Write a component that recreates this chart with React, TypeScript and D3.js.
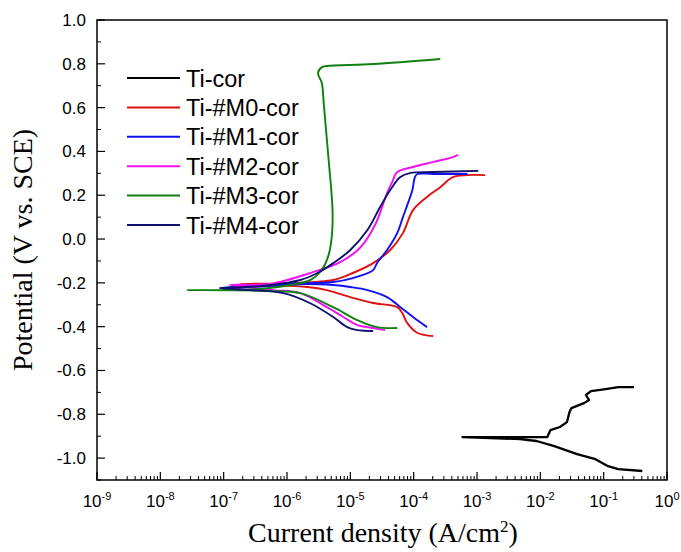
import React from "react";
import * as d3 from "d3";

// ---- data (log10 current density, potential V vs SCE) ----
const seriesNames = ["Ti-cor", "Ti-#M0-cor", "Ti-#M1-cor", "Ti-#M2-cor", "Ti-#M3-cor", "Ti-#M4-cor"];
const seriesColors = ["#000000", "#e01010", "#1010f0", "#f010f0", "#108010", "#101070"];

const tiCorLogI = [-0.39, -0.77, -0.93, -1.13, -1.42, -1.78, -2.06, -2.32, -2.79, -3.23, -2.63, -2.11, -1.89, -1.84, -1.69, -1.58, -1.54, -1.51, -1.31, -1.23, -1.28, -1.2, -0.97, -0.77, -0.52];
const tiCorE = [-1.059, -1.05, -1.037, -1.005, -0.982, -0.945, -0.922, -0.913, -0.909, -0.904, -0.904, -0.904, -0.904, -0.872, -0.858, -0.836, -0.79, -0.772, -0.749, -0.735, -0.712, -0.694, -0.685, -0.676, -0.676];

const m0LogI = [-3.69, -3.94, -4.1, -4.18, -4.26, -4.64, -5.0, -5.37, -5.68, -6.27, -6.74, -5.95, -5.27, -4.96, -4.64, -4.37, -4.17, -4.01, -3.79, -3.58, -3.38, -3.15, -2.87];
const m0E = [-0.443, -0.429, -0.384, -0.338, -0.311, -0.292, -0.265, -0.233, -0.219, -0.21, -0.205, -0.201, -0.187, -0.155, -0.11, -0.05, 0.027, 0.132, 0.192, 0.237, 0.283, 0.292, 0.292];

const m1LogI = [-3.79, -4.01, -4.21, -4.42, -4.73, -5.0, -5.27, -5.68, -6.27, -7.06, -6.11, -5.27, -4.96, -4.64, -4.58, -4.42, -4.26, -4.17, -4.09, -4.02, -3.98, -3.94, -3.69, -3.15];
const m1E = [-0.402, -0.356, -0.311, -0.265, -0.233, -0.219, -0.21, -0.205, -0.215, -0.224, -0.205, -0.196, -0.178, -0.142, -0.11, -0.05, 0.027, 0.1, 0.164, 0.224, 0.283, 0.297, 0.297, 0.297];

const m2LogI = [-4.45, -4.64, -4.89, -5.11, -5.37, -5.79, -6.22, -6.9, -6.27, -5.59, -5.16, -4.85, -4.61, -4.42, -4.34, -4.26, -4.01, -3.69, -3.38, -3.3];
const m2E = [-0.416, -0.406, -0.393, -0.356, -0.311, -0.247, -0.233, -0.21, -0.205, -0.151, -0.105, -0.041, 0.064, 0.21, 0.26, 0.306, 0.329, 0.352, 0.374, 0.384];

const m3LogI = [-4.26, -4.58, -4.89, -5.27, -5.79, -6.27, -7.58, -7.06, -6.42, -5.95, -5.62, -5.45, -5.34, -5.29, -5.28, -5.3, -5.33, -5.36, -5.39, -5.42, -5.45, -5.51, -5.45, -5.37, -4.64, -3.58];
const m3E = [-0.406, -0.402, -0.37, -0.311, -0.247, -0.237, -0.233, -0.233, -0.228, -0.21, -0.185, -0.14, -0.07, 0.02, 0.12, 0.22, 0.32, 0.42, 0.52, 0.62, 0.712, 0.758, 0.785, 0.79, 0.799, 0.822];

const m4LogI = [-4.64, -4.89, -5.05, -5.27, -5.64, -6.06, -6.58, -7.06, -6.42, -5.79, -5.52, -5.27, -5.0, -4.73, -4.53, -4.37, -4.21, -4.06, -3.69, -2.98];
const m4E = [-0.42, -0.416, -0.402, -0.356, -0.292, -0.247, -0.233, -0.224, -0.215, -0.187, -0.155, -0.11, -0.05, 0.041, 0.146, 0.224, 0.283, 0.301, 0.306, 0.311];

const xDecades = [-9, -8, -7, -6, -5, -4, -3, -2, -1, 0];
const yTickValues = [-1.0, -0.8, -0.6, -0.4, -0.2, 0.0, 0.2, 0.4, 0.6, 0.8, 1.0];

const allLogI = [tiCorLogI, m0LogI, m1LogI, m2LogI, m3LogI, m4LogI];
const allE = [tiCorE, m0E, m1E, m2E, m3E, m4E];

export default function App() {
  const W = 681, H = 552;
  const left = 97, right = 667, top = 20, bottom = 480;
  const x = d3.scaleLog().domain([1e-9, 1]).range([left, right]);
  const y = d3.scaleLinear().domain([-1.1, 1.0]).range([bottom, top]);

  const sharp = d3.line<[number, number]>().x(d => x(Math.pow(10, d[0]))).y(d => y(d[1]));
  const smooth = d3.line<[number, number]>().x(d => x(Math.pow(10, d[0]))).y(d => y(d[1])).curve(d3.curveCatmullRom.alpha(0.5));

  const minorX: number[] = [];
  xDecades.slice(0, -1).forEach(dd => {
    for (let k = 2; k <= 9; k++) minorX.push(k * Math.pow(10, dd));
  });
  const minorY = d3.range(-11, 10).map(v => v / 10).filter(v => Math.abs(Math.round(v * 10)) % 2 === 1);

  const tickFont = "Arial, 'Liberation Sans', sans-serif";
  const serif = "'Times New Roman', 'Liberation Serif', serif";

  return (
    <svg width={W} height={H} style={{ position: "absolute", left: 0, top: 0, background: "#fff" }}>
      <rect x={0} y={0} width={W} height={H} fill="#fff" />
      {/* data lines */}
      {allLogI.map((li, i) => {
        const pts = li.map((v, j) => [v, allE[i][j]] as [number, number]);
        const gen = i === 0 ? sharp : smooth;
        return (
          <path key={i} d={gen(pts) || ""}
            fill="none" stroke={seriesColors[i]} strokeWidth={i === 0 ? 2.3 : 1.9} strokeLinejoin="round" />
        );
      })}
      {/* frame */}
      <rect x={left} y={top} width={right - left} height={bottom - top} fill="none" stroke="#000" strokeWidth={1.5} />
      {/* x ticks */}
      {xDecades.map(dd => (
        <line key={"xm" + dd} x1={x(Math.pow(10, dd))} x2={x(Math.pow(10, dd))} y1={bottom} y2={bottom - 8} stroke="#000" strokeWidth={1.2} />
      ))}
      {minorX.map((v, i) => (
        <line key={"xn" + i} x1={x(v)} x2={x(v)} y1={bottom} y2={bottom - 4} stroke="#000" strokeWidth={1} />
      ))}
      {xDecades.map(dd => (
        <text key={"xl" + dd} x={x(Math.pow(10, dd))} y={507} textAnchor="middle" fontFamily={tickFont} fontSize={17}>
          10<tspan dy={-7} fontSize={11}>{dd}</tspan>
        </text>
      ))}
      {/* y ticks */}
      {yTickValues.map(v => (
        <line key={"ym" + v} x1={left} x2={left + 8} y1={y(v)} y2={y(v)} stroke="#000" strokeWidth={1.2} />
      ))}
      {minorY.map((v, i) => (
        <line key={"yn" + i} x1={left} x2={left + 4} y1={y(v)} y2={y(v)} stroke="#000" strokeWidth={1} />
      ))}
      {yTickValues.map(v => (
        <text key={"yl" + v} x={86} y={y(v) + 6} textAnchor="end" fontFamily={tickFont} fontSize={17}>
          {v.toFixed(1)}
        </text>
      ))}
      {/* axis titles */}
      <text x={383} y={542} textAnchor="middle" fontFamily={serif} fontSize={28}>
        Current density (A/cm<tspan dy={-10} fontSize={17}>2</tspan><tspan dy={10}>)</tspan>
      </text>
      <text transform={`translate(32,250) rotate(-90)`} textAnchor="middle" fontFamily={serif} fontSize={28}>
        Potential (V vs. SCE)
      </text>
      {/* legend */}
      {seriesNames.map((n, i) => (
        <g key={n}>
          <line x1={127} x2={180} y1={78 + i * 29.4} y2={78 + i * 29.4} stroke={seriesColors[i]} strokeWidth={2} />
          <text x={186} y={78 + i * 29.4 + 8.5} fontFamily={tickFont} fontSize={23.5}>{n}</text>
        </g>
      ))}
    </svg>
  );
}
